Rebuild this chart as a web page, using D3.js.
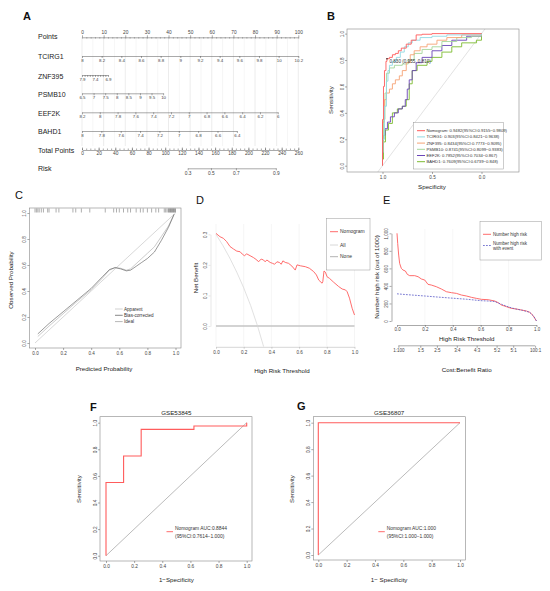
<!DOCTYPE html>
<html>
<head>
  <meta charset="utf-8">
  <title>nomogram / ROC / calibration / DCA panels</title>
  <style>
  body { margin: 0; background: #fff; }
  svg { font-family: "Liberation Sans", Arial, sans-serif; }
  .letter { font-size: 11px; fill: #111; }
  .title { font-size: 6.2px; fill: #222; }
  .lab { font-size: 7px; fill: #222; }
  .leg { fill: #333; }
  </style>
</head>
<body>
  <svg width="550" height="591"></svg>
  <script src="https://d3js.org/d3.v7.min.js"></script>
  <script>
  // ---------- data ----------
  // A: nomogram
  var nomoRows = ["Points", "TCIRG1", "ZNF395", "PSMB10", "EEF2K", "BAHD1", "Total Points", "Risk"];
  var pointTicks = [0, 10, 20, 30, 40, 50, 60, 70, 80, 90, 100];
  var tcirg1Ticks = [8, 8.2, 8.4, 8.6, 8.8, 9, 9.2, 9.4, 9.6, 9.8, 10, 10.2];
  var tcirg1Points = [0, 100];
  var znf395Ticks = [7.9, 7.8, 7.7, 7.6, 7.5, 7.4, 7.3, 7.2, 7.1, 7, 6.9];
  var znf395Labels = [7.9, 7.4, 6.9];
  var znf395Points = [0, 12];
  var psmb10Ticks = [6.5, 7, 7.5, 8, 8.5, 9, 9.5, 10];
  var psmb10Points = [0, 37.5];
  var eef2kTicks = [8.2, 8, 7.8, 7.6, 7.4, 7.2, 7, 6.8, 6.6, 6.4, 6.2, 6];
  var eef2kPoints = [0, 90.5];
  var bahd1Ticks = [8, 7.8, 7.6, 7.4, 7.2, 7, 6.8, 6.6, 6.4];
  var bahd1Points = [0, 71.6];
  var totalTicks = [0, 20, 40, 60, 80, 100, 120, 140, 160, 180, 200, 220, 240, 260];
  var riskTicks = [0.3, 0.5, 0.7, 0.9];
  var riskTotal = [127, 155, 185, 233];

  // B: training ROC (specificity, sensitivity) corner points
  var rocLabels = [
    "Nomogram: 0.9482(95%CI:0.9155\u22120.9809)",
    "TCIRG1: 0.903(95%CI:0.8421\u22120.9638)",
    "ZNF395: 0.8434(95%CI:0.7773\u22120.9095)",
    "PSMB10: 0.8741(95%CI:0.8099\u22120.9383)",
    "EEF2K: 0.7852(95%CI:0.7034\u22120.867)",
    "BAHD1: 0.7609(95%CI:0.6739\u22120.848)"
  ];
  var nomoSpec = [1, 1, 0.99, 0.98, 0.965, 0.955, 0.93, 0.9, 0.87, 0.84, 0.81, 0.76, 0.71, 0.66, 0.6, 0.5, 0];
  var nomoSens = [0, 0.35, 0.6, 0.72, 0.79, 0.81, 0.82, 0.84, 0.85, 0.87, 0.89, 0.92, 0.95, 0.99, 0.995, 1, 1];
  var tcirgSpec = [1, 1, 0.98, 0.96, 0.945, 0.93, 0.9, 0.86, 0.82, 0.78, 0.74, 0.7, 0.62, 0.5, 0.35, 0];
  var tcirgSens = [0, 0.2, 0.45, 0.64, 0.72, 0.76, 0.79, 0.82, 0.86, 0.9, 0.93, 0.95, 0.97, 0.98, 0.99, 1];
  var znfSpec = [1, 1, 0.98, 0.96, 0.93, 0.9, 0.87, 0.83, 0.8, 0.76, 0.72, 0.68, 0.62, 0.55, 0.45, 0.35, 0.2, 0];
  var znfSens = [0, 0.33, 0.5, 0.55, 0.58, 0.62, 0.65, 0.68, 0.72, 0.78, 0.84, 0.87, 0.9, 0.92, 0.95, 0.97, 0.99, 1];
  var psmbSpec = [1, 1, 0.99, 0.975, 0.96, 0.93, 0.88, 0.8, 0.74, 0.68, 0.6, 0.5, 0.4, 0.25, 0.1, 0];
  var psmbSens = [0, 0.1, 0.35, 0.55, 0.7, 0.74, 0.76, 0.77, 0.8, 0.85, 0.88, 0.9, 0.94, 0.97, 0.98, 1];
  var eefSpec = [1, 1, 0.99, 0.975, 0.95, 0.92, 0.88, 0.84, 0.8, 0.77, 0.75, 0.73, 0.7, 0.66, 0.6, 0.5, 0.4, 0.3, 0.15, 0];
  var eefSens = [0, 0.1, 0.23, 0.28, 0.33, 0.37, 0.4, 0.43, 0.45, 0.5, 0.58, 0.65, 0.72, 0.78, 0.82, 0.87, 0.91, 0.95, 0.98, 1];
  var bahdSpec = [1, 1, 0.99, 0.97, 0.94, 0.9, 0.85, 0.8, 0.76, 0.73, 0.7, 0.65, 0.55, 0.5, 0.4, 0.3, 0.2, 0.05, 0];
  var bahdSens = [0, 0.05, 0.18, 0.27, 0.32, 0.4, 0.43, 0.45, 0.5, 0.62, 0.72, 0.76, 0.79, 0.82, 0.86, 0.9, 0.93, 0.95, 1];
  var bestPoint = [0.955, 0.81];
  var bestLabel = "0.830 (0.955, 0.810)";

  // C: calibration
  var calX = [0.02, 0.1, 0.2, 0.3, 0.4, 0.48, 0.53, 0.57, 0.61, 0.65, 0.68, 0.72, 0.76, 0.8, 0.85, 0.9, 0.95, 0.99];
  var calBias = [0.07, 0.15, 0.24, 0.33, 0.42, 0.51, 0.565, 0.58, 0.57, 0.555, 0.56, 0.59, 0.62, 0.65, 0.7, 0.79, 0.89, 0.99];
  var calApparent = [0.05, 0.13, 0.225, 0.32, 0.41, 0.5, 0.56, 0.58, 0.575, 0.56, 0.57, 0.61, 0.65, 0.69, 0.74, 0.82, 0.9, 0.99];
  var calRug = [0, 0.01, 0.02, 0.03, 0.045, 0.06, 0.09, 0.1, 0.15, 0.17, 0.27, 0.29, 0.33, 0.39, 0.5, 0.56, 0.58, 0.6,
    0.63, 0.66, 0.68, 0.72, 0.75, 0.77, 0.8, 0.83, 0.86, 0.88, 0.92, 0.93, 0.94, 0.95, 0.955, 0.96, 0.965, 0.97,
    0.975, 0.98, 0.985, 0.99, 0.995, 1];
  var calLegend = ["Apparent", "Bias-corrected", "Ideal"];

  // D: decision curve
  var dcaX = [0, 0.029, 0.053, 0.077, 0.101, 0.126, 0.15, 0.174, 0.19, 0.205, 0.222, 0.246, 0.27, 0.295, 0.307, 0.326,
    0.343, 0.355, 0.367, 0.391, 0.408, 0.423, 0.44, 0.457, 0.471, 0.483, 0.5, 0.524, 0.548, 0.572, 0.585, 0.609,
    0.645, 0.674, 0.705, 0.725, 0.742, 0.766, 0.771, 0.78, 0.79, 0.802, 0.819, 0.85, 0.886, 0.911, 0.935, 0.947,
    0.964, 0.983, 1];
  var dcaNomo = [0.303, 0.292, 0.287, 0.276, 0.26, 0.252, 0.245, 0.243, 0.235, 0.23, 0.236, 0.23, 0.224, 0.216, 0.21,
    0.219, 0.216, 0.21, 0.216, 0.208, 0.205, 0.202, 0.21, 0.208, 0.202, 0.213, 0.208, 0.205, 0.196, 0.183, 0.2,
    0.197, 0.194, 0.189, 0.178, 0.167, 0.15, 0.14, 0.145, 0.18, 0.176, 0.161, 0.156, 0.143, 0.129, 0.121, 0.118,
    0.112, 0.091, 0.058, 0.036];
  var allX = [0, 0.05, 0.1, 0.15, 0.2, 0.25, 0.3, 0.35, 0.4];
  var allNB = [0.3, 0.263, 0.222, 0.176, 0.125, 0.067, 0, -0.077, -0.167];
  var dcaLegend = ["Nomogram", "All", "None"];

  // E: clinical impact
  var chX = [0, 0.005, 0.012, 0.019, 0.031, 0.043, 0.06, 0.074, 0.091, 0.127, 0.151, 0.175, 0.199, 0.222, 0.246,
    0.282, 0.318, 0.354, 0.39, 0.426, 0.462, 0.498, 0.533, 0.569, 0.605, 0.653, 0.701, 0.725, 0.749, 0.785, 0.82,
    0.856, 0.892, 0.928, 0.952, 0.976, 0.995, 1];
  var chHigh = [1000, 885, 752, 657, 600, 581, 570, 532, 517, 517, 505, 479, 467, 418, 410, 391, 365, 334, 323, 315,
    296, 285, 270, 258, 247, 243, 228, 209, 182, 163, 144, 137, 125, 114, 99, 61, 11, 0];
  var chEvX = [0, 0.05, 0.1, 0.2, 0.3, 0.4, 0.5, 0.6, 0.65, 0.7, 0.75, 0.8, 0.85, 0.9, 0.95, 0.98, 1];
  var chEvent = [310, 303, 297, 285, 272, 260, 248, 232, 228, 222, 190, 160, 137, 122, 100, 55, 0];
  var cbLabels = ["1:100", "1:5", "2:5", "3:4", "4:3", "5:2", "5:1", "100:1"];
  var cbThresh = [0.0099, 0.167, 0.286, 0.4286, 0.571, 0.714, 0.833, 0.99];

  // F, G: validation ROC (1 - specificity, sensitivity)
  var fFpr = [0, 0, 0.125, 0.25, 0.625, 1, 1];
  var fSens = [0, 0.55, 0.75, 0.95, 0.975, 0.975, 1];
  var fLegend = ["Nomogram AUC:0.8844", "(95%CI:0.7614\u22121.000)"];
  var gFpr = [0, 0, 1];
  var gSens = [0, 1, 1];
  var gLegend = ["Nomogram AUC:1.000", "(95%CI:1.000\u22121.000)"];

  var rocColors = ["#ff5a5a", "#92d9e3", "#f6a375", "#a6d69b", "#6b45b8", "#7dbb30"];
  var red = "#ff5c5c";

  var svg = d3.select("svg");
  var zip = function(a, b) { return a.map(function(v, i) { return [v, b[i]]; }); };
  var f1 = d3.format(".1f");

  function fixAxis(g, fs) {
    g.attr("font-family", null).attr("font-size", fs);
    g.selectAll("path.domain, line").attr("stroke", "#555").attr("stroke-width", 0.5);
    g.selectAll("text").attr("fill", "#444");
    return g;
  }
  // R style rotated labels on the y axis
  function rotateY(g, k) {
    g.selectAll(".tick text").attr("x", 0).attr("dy", null)
      .attr("text-anchor", "middle")
      .attr("transform", "translate(" + (-k) + ",0) rotate(-90)");
  }
  function vtitle(x, y, txt, cls) {
    svg.append("text").attr("class", cls || "title")
      .attr("transform", "translate(" + x + "," + y + ") rotate(-90)")
      .attr("text-anchor", "middle").text(txt);
  }
  function htitle(x, y, txt, cls) {
    svg.append("text").attr("class", cls || "title").attr("x", x).attr("y", y)
      .attr("text-anchor", "middle").text(txt);
  }
  function letter(x, y, t, bold) {
    svg.append("text").attr("class", "letter").attr("x", x).attr("y", y)
      .attr("font-weight", bold ? "bold" : null).text(t);
  }

  // ================= A: nomogram =================
  var pts = d3.scaleLinear().domain([0, 100]).range([82, 298.3]);
  var tot = d3.scaleLinear().domain([0, 260]).range([82, 298.3]);
  var rowY = [36, 56.7, 76, 94.3, 113.3, 131, 150, 168.3];
  var gA = svg.append("g");
  letter(23, 20, "A", true);

  gA.selectAll(".vgrid").data(d3.range(0, 101, 5)).enter().append("line")
    .attr("x1", function(d) { return pts(d); }).attr("x2", function(d) { return pts(d); })
    .attr("y1", 37.3).attr("y2", 146)
    .attr("stroke", function(d) { return d % 10 === 0 ? "#d8d8d8" : "#ececec"; })
    .attr("stroke-width", 0.5);

  gA.selectAll(".rowlab").data(nomoRows).enter().append("text")
    .attr("class", "lab").attr("x", 38)
    .attr("y", function(d, i) { return rowY[i] + 2.5; })
    .text(function(d) { return d; });

  // points scale
  var pa = gA.append("g").attr("transform", "translate(0,37.3)")
    .call(d3.axisTop(pts).tickValues(pointTicks).tickSize(2).tickSizeOuter(0).tickPadding(1));
  fixAxis(pa, 4.8);
  var pm = gA.append("g").attr("transform", "translate(0,37.3)")
    .call(d3.axisBottom(pts).tickValues(d3.range(0, 101, 2)).tickSize(1.2).tickFormat(""));
  pm.select(".domain").remove();
  fixAxis(pm, 4.8);

  function varAxis(y, ticks, points, labels) {
    var s = d3.scaleLinear().domain([ticks[0], ticks[ticks.length - 1]])
      .range([pts(points[0]), pts(points[1])]);
    var ax = d3.axisBottom(s).tickValues(ticks).tickSize(2).tickSizeOuter(0).tickPadding(1)
      .tickFormat(function(d) {
        if (!labels) return d;
        return labels.some(function(l) { return Math.abs(l - d) < 1e-9; }) ? d : "";
      });
    fixAxis(gA.append("g").attr("transform", "translate(0," + y + ")").call(ax), 4.4);
  }
  varAxis(56, tcirg1Ticks, tcirg1Points);
  varAxis(75, znf395Ticks, znf395Points, znf395Labels);
  varAxis(93.3, psmb10Ticks, psmb10Points);
  varAxis(112.3, eef2kTicks, eef2kPoints);
  varAxis(131, bahd1Ticks, bahd1Points);

  // total points
  var ta = gA.append("g").attr("transform", "translate(0,150)")
    .call(d3.axisBottom(tot).tickValues(totalTicks).tickSize(-2.5).tickSizeOuter(0).tickPadding(2));
  fixAxis(ta, 4.8);
  var tm = gA.append("g").attr("transform", "translate(0,150)")
    .call(d3.axisBottom(tot).tickValues(d3.range(0, 261, 5)).tickSize(-1.5).tickFormat(""));
  tm.select(".domain").remove();
  fixAxis(tm, 4.8);

  // risk
  var riskScale = d3.scaleLinear().domain(riskTicks).range(riskTotal.map(function(d) { return tot(d); }));
  fixAxis(gA.append("g").attr("transform", "translate(0,168.3)")
    .call(d3.axisBottom(riskScale).tickValues(riskTicks).tickFormat(f1)
      .tickSize(2).tickSizeOuter(0).tickPadding(1)), 4.8);

  // ================= B: ROC training =================
  var bx = d3.scaleLinear().domain([1, 0]).range([382.5, 481.5]);
  var by = d3.scaleLinear().domain([0, 1]).range([165.7, 33.6]);
  letter(327, 20, "B", true);
  svg.append("clipPath").attr("id", "clipB").append("rect")
    .attr("x", 347).attr("y", 29).attr("width", 172).attr("height", 143);
  svg.append("line").attr("clip-path", "url(#clipB)")
    .attr("x1", bx(1.1)).attr("y1", by(-0.1)).attr("x2", bx(-0.1)).attr("y2", by(1.1))
    .attr("stroke", "#cfcfcf").attr("stroke-width", 0.6);

  var rocSets = [zip(nomoSpec, nomoSens), zip(tcirgSpec, tcirgSens), zip(znfSpec, znfSens),
    zip(psmbSpec, psmbSens), zip(eefSpec, eefSens), zip(bahdSpec, bahdSens)];
  var stepB = d3.line().curve(d3.curveStepAfter)
    .x(function(d) { return bx(d[0]); }).y(function(d) { return by(d[1]); });
  svg.append("g").selectAll("path").data(rocSets.slice().reverse()).enter().append("path")
    .attr("d", stepB).attr("fill", "none")
    .attr("stroke", function(d, i) { return rocColors[rocSets.length - 1 - i]; })
    .attr("stroke-width", 0.9);

  svg.append("circle").attr("cx", bx(bestPoint[0])).attr("cy", by(bestPoint[1])).attr("r", 0.8).attr("fill", "#222");
  svg.append("text").attr("x", bx(bestPoint[0]) + 2.5).attr("y", by(bestPoint[1]) + 4)
    .attr("font-size", 4.6).attr("fill", "#333").text(bestLabel);

  svg.append("rect").attr("x", 347).attr("y", 29).attr("width", 172).attr("height", 143)
    .attr("fill", "none").attr("stroke", "#888").attr("stroke-width", 0.6);
  var bl = svg.append("g").attr("transform", "translate(347,0)")
    .call(d3.axisLeft(by).tickValues([0, 0.2, 0.4, 0.6, 0.8, 1]).tickFormat(f1).tickSize(2).tickSizeOuter(0));
  fixAxis(bl, 4.6); rotateY(bl, 3.3); bl.select(".domain").remove();
  var bb = svg.append("g").attr("transform", "translate(0,172)")
    .call(d3.axisBottom(bx).tickValues([1, 0.5, 0]).tickFormat(f1).tickSize(2).tickSizeOuter(0).tickPadding(1.5));
  fixAxis(bb, 4.6); bb.select(".domain").remove();
  vtitle(333, 100, "Sensitivity");
  htitle(432, 189, "Specificity");

  var lgB = svg.append("g");
  lgB.append("rect").attr("x", 413.3).attr("y", 122.7).attr("width", 90).attr("height", 46.3)
    .attr("fill", "#fff").attr("stroke", "#999").attr("stroke-width", 0.5);
  rocLabels.forEach(function(t, i) {
    var y = 130.7 + i * 6.2;
    lgB.append("line").attr("x1", 417).attr("x2", 425).attr("y1", y).attr("y2", y)
      .attr("stroke", rocColors[i]).attr("stroke-width", 1);
    lgB.append("text").attr("class", "leg").attr("x", 426.5).attr("y", y + 1.5)
      .attr("font-size", 4.2).text(t);
  });

  // ================= C: calibration =================
  var cx = d3.scaleLinear().domain([0, 1]).range([35, 175.5]);
  var cy = d3.scaleLinear().domain([0, 1]).range([343, 213]);
  letter(15, 199, "C");
  svg.append("rect").attr("x", 29.4).attr("y", 208).attr("width", 151.6).attr("height", 140)
    .attr("fill", "none").attr("stroke", "#888").attr("stroke-width", 0.6);
  var lineC = d3.line().x(function(d) { return cx(d[0]); }).y(function(d) { return cy(d[1]); });
  svg.append("path").attr("d", lineC([[0, 0], [1, 1]])).attr("fill", "none").attr("stroke", "#bdbdbd").attr("stroke-width", 0.6);
  svg.append("path").attr("d", lineC(zip(calX, calApparent))).attr("fill", "none").attr("stroke", "#a8a8a8").attr("stroke-width", 0.6);
  svg.append("path").attr("d", lineC(zip(calX, calBias))).attr("fill", "none").attr("stroke", "#555").attr("stroke-width", 0.6);
  svg.append("g").selectAll("line").data(calRug).enter().append("line")
    .attr("x1", function(d) { return cx(d); }).attr("x2", function(d) { return cx(d); })
    .attr("y1", 208.5).attr("y2", 212.5).attr("stroke", "#333").attr("stroke-width", 0.4);
  var cl = svg.append("g").attr("transform", "translate(29.4,0)")
    .call(d3.axisLeft(cy).tickValues([0, 0.2, 0.4, 0.6, 0.8, 1]).tickFormat(f1).tickSize(2).tickSizeOuter(0));
  fixAxis(cl, 4.6); rotateY(cl, 3.3); cl.select(".domain").remove();
  var cb = svg.append("g").attr("transform", "translate(0,348)")
    .call(d3.axisBottom(cx).tickValues([0, 0.2, 0.4, 0.6, 0.8, 1]).tickFormat(f1).tickSize(2).tickSizeOuter(0).tickPadding(1.5));
  fixAxis(cb, 4.6); cb.select(".domain").remove();
  vtitle(13, 280, "Observed Probability");
  htitle(104, 371, "Predicted Probability");
  var calCols = ["#bdbdbd", "#555", "#999"];
  calLegend.forEach(function(t, i) {
    var y = 309 + i * 6.3;
    svg.append("line").attr("x1", 115).attr("x2", 122.7).attr("y1", y).attr("y2", y)
      .attr("stroke", calCols[i]).attr("stroke-width", 0.7);
    svg.append("text").attr("class", "leg").attr("x", 124).attr("y", y + 1.6).attr("font-size", 4.6).text(t);
  });

  // ================= D: decision curve =================
  var dx = d3.scaleLinear().domain([0, 1]).range([216, 354.5]);
  var dy = d3.scaleLinear().domain([0, 0.3]).range([326, 234.3]);
  letter(196, 204, "D");
  svg.append("g").selectAll("line").data([0, 0.2, 0.4, 0.6, 0.8, 1]).enter().append("line")
    .attr("x1", function(d) { return dx(d); }).attr("x2", function(d) { return dx(d); })
    .attr("y1", 224).attr("y2", 346).attr("stroke", "#eeeeee").attr("stroke-width", 0.6);
  svg.append("clipPath").attr("id", "clipD").append("rect")
    .attr("x", 210).attr("y", 220).attr("width", 150).attr("height", 126.5);
  var lineD = d3.line().x(function(d) { return dx(d[0]); }).y(function(d) { return dy(d[1]); });
  svg.append("path").attr("d", lineD([[0, 0], [1, 0]])).attr("stroke", "#c4c4c4").attr("stroke-width", 1.6).attr("fill", "none");
  svg.append("path").attr("clip-path", "url(#clipD)").attr("d", lineD(zip(allX, allNB)))
    .attr("stroke", "#d4d4d4").attr("stroke-width", 0.7).attr("fill", "none");
  svg.append("path").attr("d", lineD(zip(dcaX, dcaNomo))).attr("stroke", red).attr("stroke-width", 0.9).attr("fill", "none");
  var dl = svg.append("g").attr("transform", "translate(210.5,0)")
    .call(d3.axisLeft(dy).tickValues([0, 0.1, 0.2, 0.3]).tickFormat(f1).tickSize(2).tickSizeOuter(0));
  fixAxis(dl, 4.6); rotateY(dl, 3.3);
  dl.selectAll("path.domain, line").attr("stroke", "#ccc");
  var db = svg.append("g").attr("transform", "translate(0,346.8)")
    .call(d3.axisBottom(dx).tickValues([0, 0.2, 0.4, 0.6, 0.8, 1]).tickFormat(f1).tickSize(2).tickSizeOuter(0).tickPadding(1.5));
  fixAxis(db, 4.6);
  db.selectAll("path.domain, line").attr("stroke", "#aaa");
  vtitle(198, 278, "Net Benefit");
  htitle(282, 373, "High Risk Threshold");
  svg.append("rect").attr("x", 326.7).attr("y", 218.3).attr("width", 43.3).attr("height", 51.7)
    .attr("fill", "#fff").attr("stroke", "#999").attr("stroke-width", 0.5);
  var dcaCols = [red, "#d4d4d4", "#aaaaaa"];
  dcaLegend.forEach(function(t, i) {
    var y = [231.7, 245, 256.7][i];
    svg.append("line").attr("x1", 330).attr("x2", 338).attr("y1", y).attr("y2", y)
      .attr("stroke", dcaCols[i]).attr("stroke-width", 0.9);
    svg.append("text").attr("class", "leg").attr("x", 340).attr("y", y + 1.7).attr("font-size", 5).text(t);
  });

  // ================= E: clinical impact =================
  var ex = d3.scaleLinear().domain([0, 1]).range([397, 536.5]);
  var ey = d3.scaleLinear().domain([0, 1000]).range([321, 233.3]);
  letter(383, 204, "E");
  svg.append("g").selectAll("line").data([0.2, 0.4, 0.6, 0.8]).enter().append("line")
    .attr("x1", function(d) { return ex(d); }).attr("x2", function(d) { return ex(d); })
    .attr("y1", 229).attr("y2", 325).attr("stroke", "#f0f0f0").attr("stroke-width", 0.6);
  var lineE = d3.line().x(function(d) { return ex(d[0]); }).y(function(d) { return ey(d[1]); });
  svg.append("path").attr("d", lineE(zip(chX, chHigh))).attr("stroke", red).attr("stroke-width", 0.9).attr("fill", "none");
  svg.append("path").attr("d", lineE(zip(chEvX, chEvent))).attr("stroke", "#5b5bc8").attr("stroke-width", 0.8)
    .attr("stroke-dasharray", "1.8,1.2").attr("fill", "none");
  var el = svg.append("g").attr("transform", "translate(391.5,0)")
    .call(d3.axisLeft(ey).tickValues([0, 200, 400, 600, 800, 1000]).tickSize(2).tickSizeOuter(0));
  fixAxis(el, 4.5); rotateY(el, 3.2);
  var eb = svg.append("g").attr("transform", "translate(0,325)")
    .call(d3.axisBottom(ex).tickValues([0, 0.2, 0.4, 0.6, 0.8, 1]).tickFormat(f1).tickSize(2).tickSizeOuter(0).tickPadding(1.2));
  fixAxis(eb, 4.5);
  var cbScale = d3.scaleLinear().domain([0, 1]).range([397, 536.5]);
  var ec = svg.append("g").attr("transform", "translate(0,345.8)")
    .call(d3.axisBottom(cbScale).tickValues(cbThresh).tickSize(2).tickSizeOuter(0).tickPadding(1.5)
      .tickFormat(function(d, i) { return cbLabels[i]; }));
  fixAxis(ec, 4.5);
  ec.select(".domain").attr("d", "M" + cbScale(cbThresh[0]) + ",0H" + cbScale(cbThresh[cbThresh.length - 1]));
  vtitle(378.5, 277, "Number high risk (out of 1000)");
  htitle(466.7, 340.8, "High Risk Threshold");
  htitle(466.7, 372, "Cost:Benefit Ratio");
  svg.append("rect").attr("x", 480).attr("y", 221.7).attr("width", 61.7).attr("height", 38.3)
    .attr("fill", "#fff").attr("stroke", "#999").attr("stroke-width", 0.5);
  svg.append("line").attr("x1", 483).attr("x2", 491).attr("y1", 234.3).attr("y2", 234.3)
    .attr("stroke", red).attr("stroke-width", 0.9);
  svg.append("text").attr("class", "leg").attr("x", 493).attr("y", 235.9).attr("font-size", 4.5).text("Number high risk");
  svg.append("line").attr("x1", 483).attr("x2", 491).attr("y1", 245.5).attr("y2", 245.5)
    .attr("stroke", "#5b5bc8").attr("stroke-width", 0.8).attr("stroke-dasharray", "1.8,1.2");
  svg.append("text").attr("class", "leg").attr("x", 493).attr("y", 244.6).attr("font-size", 4.5).text("Number high risk");
  svg.append("text").attr("class", "leg").attr("x", 493).attr("y", 249.8).attr("font-size", 4.5).text("with event");

  // ================= F, G: validation ROC =================
  function valRoc(o) {
    var x = d3.scaleLinear().domain([0, 1]).range(o.xr);
    var y = d3.scaleLinear().domain([0, 1]).range(o.yr);
    letter(o.lx, o.ly, o.letter, true);
    svg.append("rect").attr("x", o.box[0]).attr("y", o.box[1]).attr("width", o.box[2]).attr("height", o.box[3])
      .attr("fill", "none").attr("stroke", "#888").attr("stroke-width", 0.6);
    var ln = d3.line().x(function(d) { return x(d[0]); }).y(function(d) { return y(d[1]); });
    svg.append("path").attr("d", ln([[0, 0], [1, 1]])).attr("stroke", "#777").attr("stroke-width", 0.5).attr("fill", "none");
    svg.append("path").attr("d", ln.curve(d3.curveStepAfter)(o.data)).attr("stroke", red)
      .attr("stroke-width", 1.1).attr("fill", "none");
    var l = svg.append("g").attr("transform", "translate(" + o.box[0] + ",0)")
      .call(d3.axisLeft(y).tickValues([0, 0.2, 0.4, 0.6, 0.8, 1]).tickFormat(f1).tickSize(2).tickSizeOuter(0));
    fixAxis(l, 4.8); rotateY(l, 3.3); l.select(".domain").remove();
    var b = svg.append("g").attr("transform", "translate(0," + (o.box[1] + o.box[3]) + ")")
      .call(d3.axisBottom(x).tickValues([0, 0.2, 0.4, 0.6, 0.8, 1]).tickFormat(f1).tickSize(2).tickSizeOuter(0).tickPadding(1.5));
    fixAxis(b, 4.8); b.select(".domain").remove();
    var mid = (o.xr[0] + o.xr[1]) / 2;
    htitle(mid, 414.5, o.title, "title");
    vtitle(o.box[0] - 19, 489, "Sensitivity");
    htitle(mid, 582, o.xtitle);
    svg.append("line").attr("x1", o.leg[0]).attr("x2", o.leg[0] + 6.5).attr("y1", 531.7).attr("y2", 531.7)
      .attr("stroke", red).attr("stroke-width", 0.9);
    o.legText.forEach(function(t, i) {
      svg.append("text").attr("class", "leg").attr("x", o.leg[0] + 8.5).attr("y", 530.3 + i * 7.2)
        .attr("font-size", 4.9).text(t);
    });
  }
  valRoc({ letter: "F", lx: 90, ly: 411, xr: [106, 246.7], yr: [555.7, 422.7], box: [100, 416.7, 152, 144.3],
    data: zip(fFpr, fSens), title: "GSE53845", xtitle: "1\u2212Specificity", leg: [166.5], legText: fLegend });
  valRoc({ letter: "G", lx: 297, ly: 410, xr: [318.3, 460], yr: [555, 422.7], box: [313.3, 416.7, 152, 143.3],
    data: zip(gFpr, gSens), title: "GSE36807", xtitle: "1\u2212 Specificity", leg: [378.3], legText: gLegend });
  </script>
</body>
</html>
